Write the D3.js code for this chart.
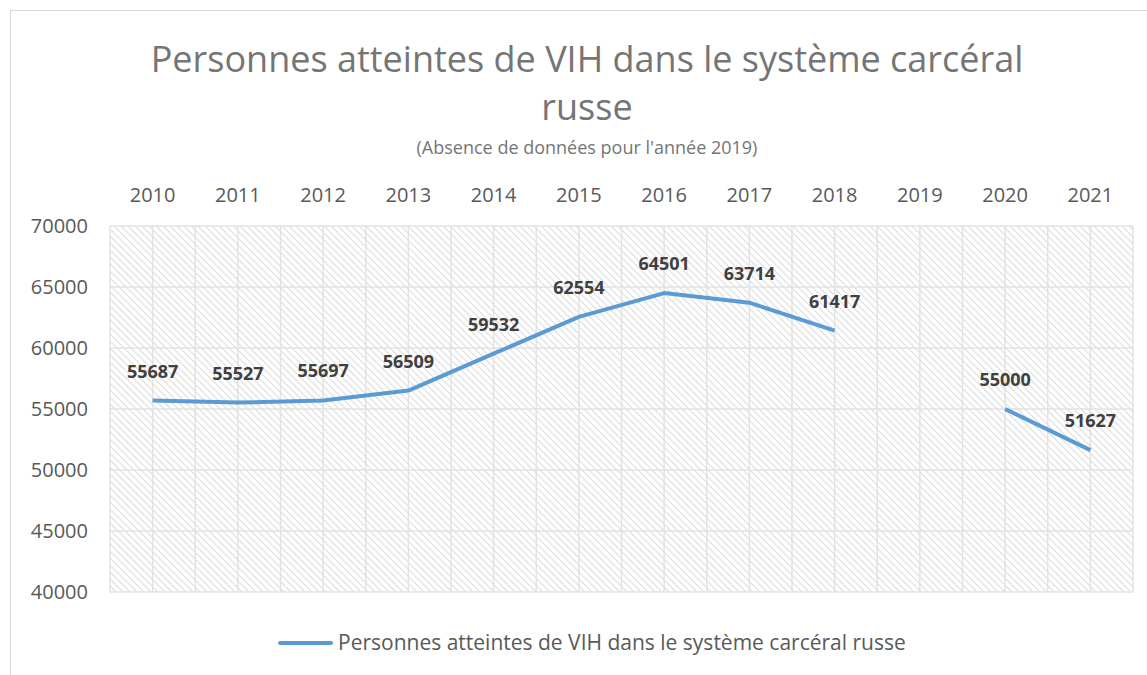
<!DOCTYPE html>
<html>
<head>
<meta charset="utf-8">
<script src="https://cdn.jsdelivr.net/npm/d3@7"></script>
<style>
  body { margin: 0; background: #fff; }
  text { font-family: "Open Sans", "Noto Sans", sans-serif; }
</style>
</head>
<body>
<div id="chart"></div>
<script>
// data (2019 missing)
const years = ["2010","2011","2012","2013","2014","2015","2016","2017","2018","2019","2020","2021"];
const values = [55687, 55527, 55697, 56509, 59532, 62554, 64501, 63714, 61417, null, 55000, 51627];
const yTicks = [40000, 45000, 50000, 55000, 60000, 65000, 70000];
const seriesName = "Personnes atteintes de VIH dans le système carcéral russe";

const width = 1147, height = 675;
const plot = { left: 110, right: 1133, top: 226, bottom: 592 };

const svg = d3.select("#chart").append("svg")
  .attr("width", width)
  .attr("height", height);

// hatch fill of the plot area
const defs = svg.append("defs");
const pat = defs.append("pattern")
  .attr("id", "hatch")
  .attr("patternUnits", "userSpaceOnUse")
  .attr("width", 7)
  .attr("height", 7);
pat.append("rect").attr("width", 7).attr("height", 7).attr("fill", "#fff");
pat.append("path")
  .attr("d", "M-1,-1 L8,8 M-8,-1 L1,8 M6,-1 L15,8")
  .attr("stroke", "#dddddd")
  .attr("stroke-width", 1.1);

// chart border
svg.append("rect")
  .attr("x", 10.5).attr("y", 10.5)
  .attr("width", width).attr("height", height)
  .attr("fill", "none")
  .attr("stroke", "#d9d9d9");

const x = d3.scaleBand().domain(years).range([plot.left, plot.right]);
const y = d3.scaleLinear().domain([40000, 70000]).range([plot.bottom, plot.top]);
const cx = d => x(d) + x.bandwidth() / 2;

svg.append("rect")
  .attr("x", plot.left).attr("y", plot.top)
  .attr("width", plot.right - plot.left)
  .attr("height", plot.bottom - plot.top)
  .attr("fill", "url(#hatch)");

// vertical grid: band edges and centres
const vlines = [];
years.forEach(d => { vlines.push(x(d)); vlines.push(cx(d)); });
vlines.push(plot.right);

svg.append("g")
  .selectAll("line")
  .data(vlines)
  .join("line")
  .attr("x1", d => d).attr("x2", d => d)
  .attr("y1", plot.top).attr("y2", plot.bottom)
  .attr("stroke", "#e2e2e2")
  .attr("stroke-width", 1.5);

svg.append("g")
  .selectAll("line")
  .data(yTicks)
  .join("line")
  .attr("x1", plot.left).attr("x2", plot.right)
  .attr("y1", d => y(d)).attr("y2", d => y(d))
  .attr("stroke", "#e2e2e2")
  .attr("stroke-width", 1.5);

// axes (labels only)
const xAxis = svg.append("g")
  .attr("transform", `translate(0,${plot.top - 24})`)
  .call(d3.axisTop(x).tickSize(0).tickPadding(0));
xAxis.select(".domain").remove();
xAxis.selectAll("text")
  .attr("font-size", 20)
  .attr("fill", "#595959")
  .attr("font-family", "Open Sans, sans-serif");

const yAxis = svg.append("g")
  .attr("transform", `translate(${plot.left - 22},0)`)
  .call(d3.axisLeft(y).tickValues(yTicks).tickSize(0).tickPadding(0).tickFormat(d3.format("d")));
yAxis.select(".domain").remove();
yAxis.selectAll("text")
  .attr("font-size", 20)
  .attr("fill", "#595959")
  .attr("font-family", "Open Sans, sans-serif");

// series line
const pts = years.map((d, i) => ({ year: d, v: values[i] }));
const line = d3.line()
  .defined(d => d.v != null)
  .x(d => cx(d.year))
  .y(d => y(d.v));

svg.append("path")
  .datum(pts)
  .attr("fill", "none")
  .attr("stroke", "#5b9bd5")
  .attr("stroke-width", 4)
  .attr("stroke-linejoin", "round")
  .attr("d", line);

// data labels
svg.append("g")
  .selectAll("text")
  .data(pts.filter(d => d.v != null))
  .join("text")
  .attr("x", d => cx(d.year))
  .attr("y", d => y(d.v) - 23)
  .attr("text-anchor", "middle")
  .attr("font-size", 18)
  .attr("font-weight", "bold")
  .attr("fill", "#404040")
  .text(d => d.v);

// title
svg.append("text")
  .attr("x", 587).attr("y", 72)
  .attr("text-anchor", "middle")
  .attr("font-size", 36)
  .attr("fill", "#757575")
  .text("Personnes atteintes de VIH dans le système carcéral");
svg.append("text")
  .attr("x", 587).attr("y", 120)
  .attr("text-anchor", "middle")
  .attr("font-size", 36)
  .attr("fill", "#757575")
  .text("russe");
svg.append("text")
  .attr("x", 587).attr("y", 154)
  .attr("text-anchor", "middle")
  .attr("font-size", 18)
  .attr("fill", "#757575")
  .text("(Absence de données pour l'année 2019)");

// legend
svg.append("line")
  .attr("x1", 280).attr("x2", 331)
  .attr("y1", 643).attr("y2", 643)
  .attr("stroke", "#5b9bd5")
  .attr("stroke-width", 4)
  .attr("stroke-linecap", "round");
svg.append("text")
  .attr("x", 338).attr("y", 650)
  .attr("font-size", 21)
  .attr("fill", "#595959")
  .text(seriesName);
</script>
</body>
</html>
